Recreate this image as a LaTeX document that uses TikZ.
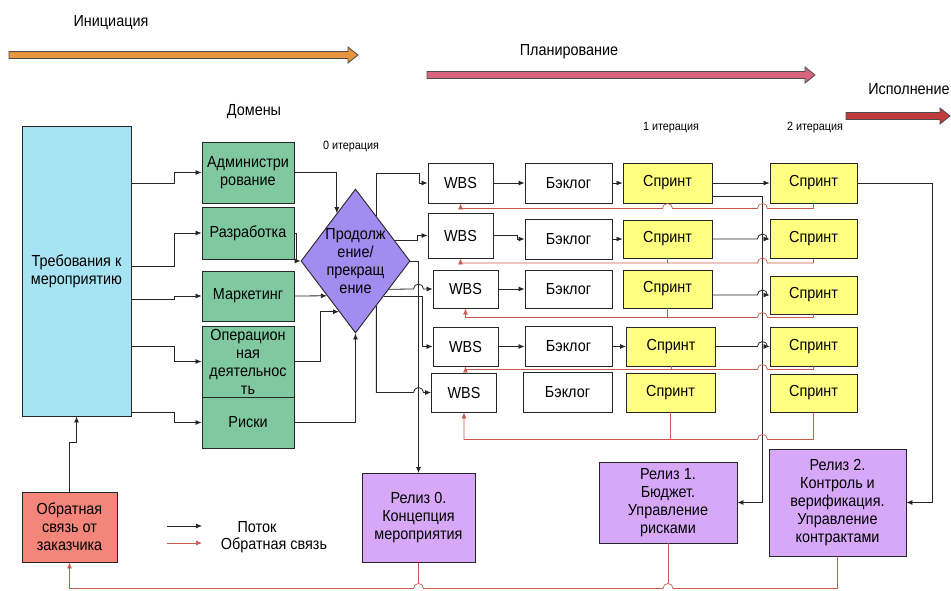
\documentclass[tikz,border=0pt]{standalone}
\usepackage{fontspec}
\setmainfont{Liberation Sans}[FakeStretch=0.9]
\usetikzlibrary{arrows.meta,shapes.geometric,calc}

\definecolor{reqblue}{HTML}{A6E3F3}
\definecolor{domgreen}{HTML}{80C9A0}
\definecolor{decviolet}{HTML}{A08DEF}
\definecolor{sprintyellow}{HTML}{FFFF80}
\definecolor{relviolet}{HTML}{D8A8F8}
\definecolor{custred}{HTML}{F4857A}
\definecolor{fbcolor}{HTML}{C85A50}
\definecolor{initorange}{HTML}{E8963E}
\definecolor{planpink}{HTML}{D9647F}
\definecolor{execred}{HTML}{C23B3D}

\newcommand\phasearrow[4]{\draw[draw=black!70,fill=#1,line width=.8pt]
  (#2,#4-3.5) -- (#3-10,#4-3.5) -- (#3-10,#4-8) -- (#3,#4) -- (#3-10,#4+8)
  -- (#3-10,#4+3.5) -- (#2,#4+3.5) -- cycle;}

\tikzset{
  txt/.style={align=center,inner sep=0pt,font=\fontsize{16}{18}\selectfont},
  small/.style={txt,font=\fontsize{12}{14}\selectfont},
  box/.style={txt,draw=black!85,line width=.9pt},
  req/.style={box,fill=reqblue,minimum width=109pt,minimum height=290pt},
  dom/.style={box,fill=domgreen,minimum width=92pt},
  dec/.style={diamond,draw=black!85,line width=.9pt,fill=decviolet,inner sep=0pt,
    minimum width=109pt,minimum height=144pt},
  wbs/.style={box,fill=white,minimum width=65pt},
  blog/.style={box,fill=white,minimum width=87pt},
  spr/.style={box,fill=sprintyellow,minimum width=89pt},
  rel/.style={box,fill=relviolet},
  flow/.style={draw=black!85,line width=.8pt,-{Latex[length=6pt,width=5pt]}},
  fbline/.style={draw=fbcolor,line width=.7pt},
  fbarrow/.style={fbline,-{Latex[length=6pt,width=5pt]}}
}

\begin{document}
\begin{tikzpicture}[x=1pt,y=-1pt]
\useasboundingbox (0,0) rectangle (951,590);

% phases
\phasearrow{initorange}{9}{358}{55}
\phasearrow{planpink}{427}{815}{75}
\phasearrow{execred}{846}{950}{116}
\node[txt] (tinit) at (111,23) {Инициация};
\node[txt] (tplan) at (569,52) {Планирование};
\node[txt] (texec) at (909,89) {Исполнение};
\node[txt] (tdom) at (254,112) {Домены};
\node[small] (it0) at (351,147) {0 итерация};
\node[small] (it1) at (671,128) {1 итерация};
\node[small] (it2) at (815,128) {2 итерация};

% requirements and domains
\node[req] (req) at (76.5,271) {Требования к\\мероприятию};
\node[dom,minimum height=61pt] (dom1) at (248,172.5) {Администри\\рование};
\node[dom,minimum height=52pt] (dom2) at (248,233) {Разработка};
\node[dom,minimum height=50pt] (dom3) at (248,296) {Маркетинг};
\node[dom,minimum height=71pt] (dom4) at (248,361.5) {Операцион\\ная\\деятельнос\\ть};
\node[dom,minimum height=51pt] (dom5) at (248,422.5) {Риски};
\node[dec] (dec) at (355.5,261) {};
\node[txt] (dectxt) at (dec) {Продолж\\ение/\\прекращ\\ение};

% iterations
\node[wbs,minimum height=40pt] (wbs1) at (460.5,183) {WBS};
\node[wbs,minimum height=45pt] (wbs2) at (460.5,235.5) {WBS};
\node[wbs,minimum height=38pt] (wbs3) at (465.5,289) {WBS};
\node[wbs,minimum height=39pt] (wbs4) at (465.5,346.5) {WBS};
\node[wbs,minimum height=39pt] (wbs5) at (464,392.5) {WBS};
\node[blog,minimum height=40pt] (b1) at (568.5,183) {Бэклог};
\node[blog,minimum height=40pt] (b2) at (568.5,239) {Бэклог};
\node[blog,minimum height=38pt] (b3) at (568.5,289) {Бэклог};
\node[blog,minimum height=40pt] (b4) at (568.5,346.5) {Бэклог};
\node[blog,minimum height=40pt,minimum width=89pt] (b5) at (567.5,392) {Бэклог};
\node[spr,minimum height=40pt] (s11) at (667.5,183) {Спринт};
\node[spr,minimum height=38pt] (s12) at (667.5,239) {Спринт};
\node[spr,minimum height=38pt] (s13) at (667.5,289) {Спринт};
\node[spr,minimum height=39pt] (s14) at (671,346.5) {Спринт};
\node[spr,minimum height=39pt] (s15) at (670.5,392.5) {Спринт};
\node[spr,minimum height=40pt,minimum width=87pt] (s21) at (813.5,183) {Спринт};
\node[spr,minimum height=39pt,minimum width=87pt] (s22) at (813.5,239) {Спринт};
\node[spr,minimum height=38pt,minimum width=87pt] (s23) at (813.5,295) {Спринт};
\node[spr,minimum height=39pt,minimum width=87pt] (s24) at (813.5,346.5) {Спринт};
\node[spr,minimum height=38pt,minimum width=87pt] (s25) at (813.5,393) {Спринт};

% releases
\node[rel,minimum width=113pt,minimum height=89pt] (rel0) at (418.5,518) {Релиз 0.\\Концепция\\мероприятия};
\node[rel,minimum width=138pt,minimum height=81pt] (rel1) at (668,502.5) {Релиз 1.\\Бюджет.\\Управление\\рисками};
\node[rel,minimum width=137pt,minimum height=107pt] (rel2) at (837.5,502.5) {Релиз 2.\\Контроль и\\верификация.\\Управление\\контрактами};
\node[box,fill=custred,minimum width=95pt,minimum height=70pt] (fb) at (69.5,527) {Обратная\\связь от\\заказчика};

% legend
\coordinate (lg1) at (167,526);
\coordinate (lg2) at (167,543);
\draw[flow] (lg1) -- ++(35,0);
\draw[fbarrow] (lg2) -- ++(35,0);
\node[txt] (lgflow) at (257,527) {Поток};
\node[txt] (lgfb) at (274,545) {Обратная связь};

% requirements -> domains -> decision
\draw[flow] ($(req.north east)+(0,58)$) -- ++(43,0) |- (dom1);
\draw[flow] ($(req.north east)+(0,141)$) -- ++(43,0) |- (dom2);
\draw[flow] ($(req.north east)+(0,174)$) -- ++(43,0) |- (dom3);
\draw[flow] ($(req.north east)+(0,221)$) -- ++(43,0) |- (dom4);
\draw[flow] ($(req.north east)+(0,287)$) -- ++(43,0) |- (dom5);
\draw[flow] (dom1.east) -| ($(dec.west)!0.66!(dec.north)$);
\draw[flow] (dom2.east) -- ++(2,0) |- (dec.west);
\draw[flow] (dom3.east) -- ($(dec.west)!0.48!(dec.south)$);
\draw[flow] (dom4.east) -- ++(26,0) |- ($(dec.west)!0.7!(dec.south)$);
\draw[flow] (dom5.east) -| (dec.south);
\draw[flow] (fb.north) -- ++(0,-49) -| (req.south);

% decision -> WBS
\draw[flow] ($(dec.north)!0.38!(dec.east)$) -- ++(0,-43) -- ++(43,0) |- (wbs1);
\draw[flow] ($(dec.north)!0.71!(dec.east)$) -- ++(23,0) |- (wbs2);
\draw[flow] (dec.east) -| (rel0);
\draw[flow] ($(dec.east)!0.39!(dec.south)$) -- ($(rel0.north |- wbs3)+(-5,0)$)
  arc[start angle=180,end angle=360,radius=5] -- (wbs3);
\draw[flow] ($(dec.east)!0.49!(dec.south)$) -- ++(39,0) |- (wbs4);
\draw[flow] ($(dec.east)!0.62!(dec.south)$) |- ($(rel0.north |- wbs5)+(-5,0)$)
  arc[start angle=180,end angle=360,radius=5] -- (wbs5);

% WBS -> backlog -> sprint
\draw[flow] (wbs1) -- (b1);
\draw[flow] (wbs2.east) -- ++(24,0) |- (b2);
\draw[flow] (wbs3) -- (b3);
\draw[flow] (wbs4) -- (b4);
\draw[flow] (b1) -- (s11);
\draw[flow] (b2) -- (s12);
\draw[flow] (b4) -- (s14);

% sprint 1 -> sprint 2, releases
\coordinate (bus1) at ($(s11.south east)+(50,-7)$);
\draw[flow] ($(s11.south east)+(0,-7)$) -- (bus1) |- (rel1);
\draw[flow] (s21.east) -- ++(75,0) |- (rel2);
\draw[flow] (s11) -- (s21);
\draw[flow] (s12) -- ($(bus1 |- s12)+(-5,0)$) arc[start angle=180,end angle=360,radius=5] -- (s22);
\draw[flow] (s13.east |- s23) -- ($(bus1 |- s23)+(-5,0)$) arc[start angle=180,end angle=360,radius=5] -- (s23);
\draw[flow] (s14) -- ($(bus1 |- s14)+(-5,0)$) arc[start angle=180,end angle=360,radius=5] -- (s24);

% feedback
\draw[fbarrow] (s21.south) -- ++(0,5) coordinate (r1)
  -- ($(r1 -| bus1)+(5,0)$) arc[start angle=0,end angle=-180,radius=5]
  -- ($(r1 -| s11.south)+(5,0)$) arc[start angle=0,end angle=-180,radius=5]
  -- (r1 -| wbs1.south) -- (wbs1.south);
\foreach \i/\d in {2/4,3/3,4/3,5/27}{
  \draw[fbarrow] (s2\i.south) -- ++(0,\d) coordinate (r\i)
    -- ($(r\i -| bus1)+(5,0)$) arc[start angle=0,end angle=-180,radius=5]
    -- (r\i -| wbs\i.south) -- (wbs\i.south);
  \draw[fbline] (s1\i.south) -- (s1\i.south |- r\i);
}
\draw[fbarrow] (rel2.south) -- ++(0,32) coordinate (rb)
  -- ($(rb -| rel1.south)+(5,0)$) arc[start angle=0,end angle=-180,radius=5]
  -- ($(rb -| rel0.south)+(5,0)$) arc[start angle=0,end angle=-180,radius=5]
  -- (rb -| fb.south) -- (fb.south);
\draw[fbline] (rel1.south) -- ($(rb -| rel1.south)+(0,-5)$);
\draw[fbline] (rel0.south) -- ($(rb -| rel0.south)+(0,-5)$);
\end{tikzpicture}
\end{document}
